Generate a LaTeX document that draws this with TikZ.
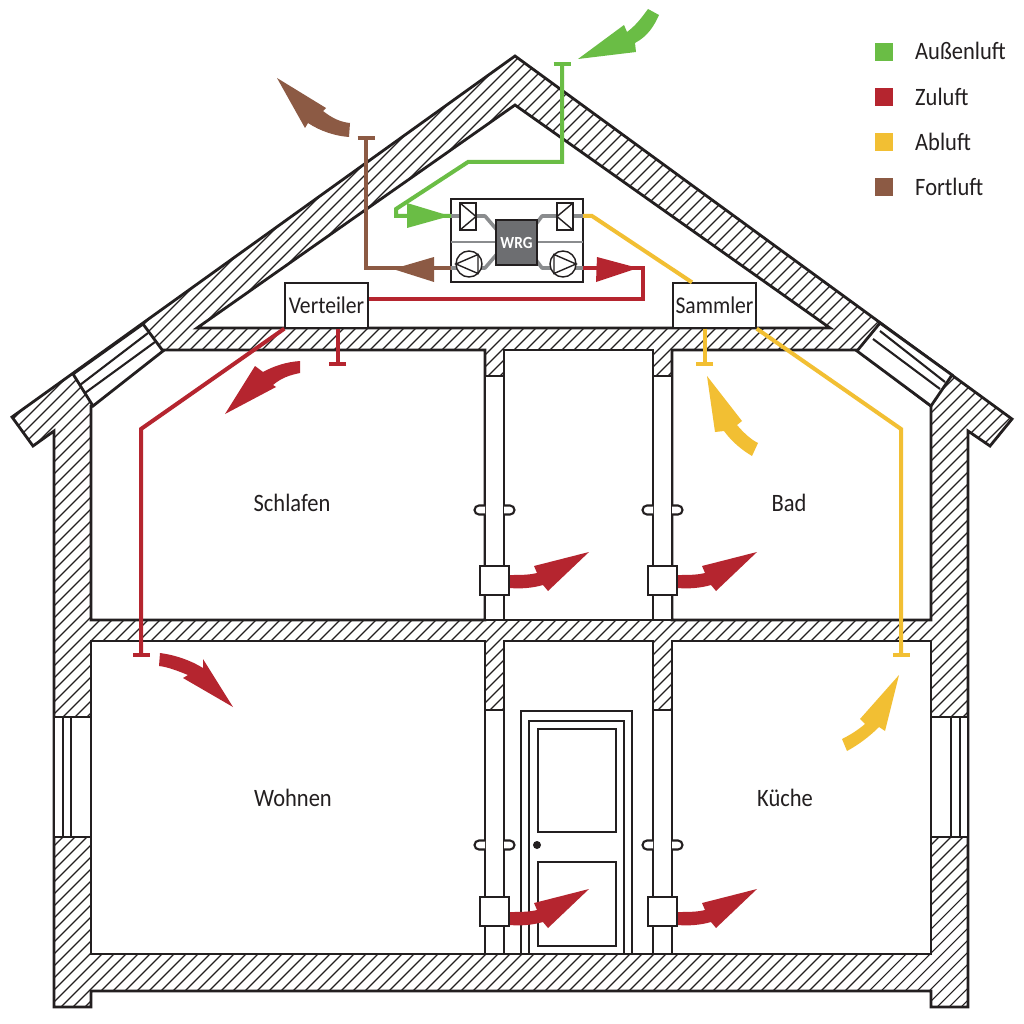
\documentclass[tikz,border=0pt]{standalone}
\usepackage{fontspec}
\setmainfont{Carlito}[FakeStretch=0.9]
\usetikzlibrary{arrows.meta}
\definecolor{aussen}{HTML}{6ABD45}
\definecolor{zu}{HTML}{B5252F}
\definecolor{ab}{HTML}{F2BF33}
\definecolor{fort}{HTML}{8C5A44}
\definecolor{ink}{HTML}{231F20}
\definecolor{wrggray}{HTML}{6D6E71}
\definecolor{pipegray}{HTML}{8A8C8E}
\tikzset{
  wall/.style={draw=ink,line width=2.8pt,line join=miter},
  room/.style={wall,fill=white},
  thin wall/.style={draw=ink,line width=2.1pt},
  hatchline/.style={draw=ink,line width=1.1pt},
  duct/.style={line width=4pt,line join=miter},
  ductend/.style={-{Bar[width=17pt,length=3.5pt]}},
  label/.style={font=\fontsize{25}{25}\selectfont,text=ink,inner sep=0pt},
  boxlabel/.style={draw=ink,line width=1.3pt,fill=white,font=\fontsize{24}{24}\selectfont,text=ink,inner sep=0pt,minimum width=83pt,minimum height=45pt},
  legendkey/.style={inner sep=0pt,minimum width=18pt,minimum height=18pt},
  legendtext/.style={label,anchor=base west},
  pipe/.style={draw=pipegray,line width=3.6pt,line join=round},
  unitline/.style={draw=ink,line width=1.4pt},
}
\begin{document}
\begin{tikzpicture}[x=1pt,y=-1pt]
\useasboundingbox (0,0) rectangle (1024,1024);
\fill[white] (0,0) rectangle (1024,1024);
% hatching of the section
\begin{scope}
\clip (515,56)--(1012,419)--(990,446)--(968,431)--(968,1007)--(931,1007)--(931,991)--(91,991)--(91,1007)--(54,1007)--(54,431)--(33,446)--(12,417)--cycle;
\foreach \c in {0,12,...,2050} \draw[hatchline] (\c,0)--(\c-1030,1030);
\end{scope}
\draw[wall] (515,56)--(1012,419)--(990,446)--(968,431)--(968,1007)--(931,1007)--(931,991)--(91,991)--(91,1007)--(54,1007)--(54,431)--(33,446)--(12,417)--cycle;
% rooms
\draw[room] (515,105)--(830,328)--(197,328)--cycle;
\draw[room] (91,406)--(163,350)--(485,350)--(485,620)--(91,620)--cycle;
\draw[room] (504,350) rectangle (653,620);
\draw[room] (672,350)--(857,350)--(931,406)--(931,620)--(672,620)--cycle;
\draw[room] (91,641) rectangle (485,954);
\draw[room] (504,641) rectangle (653,954);
\draw[room] (672,641) rectangle (931,954);
% wall openings
\foreach \x/\w in {485/19,653/19}{
  \draw[room] (\x,376) rectangle (\x+\w,620);
  \draw[room] (\x,710) rectangle (\x+\w,954);
}
% roof windows
\draw[room] (143,324)--(163,351)--(93,406)--(73,374)--cycle;
\draw[thin wall] (80,385)--(148,333) (85,393)--(155,342);
\draw[room] (880,323)--(857,351)--(931,406)--(952,375)--cycle;
\draw[thin wall] (880,331)--(945,382) (873,339)--(940,389);
% side windows
\draw[room] (54,717) rectangle (91,837);
\draw[room] (931,717) rectangle (968,837);
\draw[thin wall] (63,717)--(63,837) (71,717)--(71,837) (951,717)--(951,837) (960,717)--(960,837);
% door
\draw[thin wall] (521,954)--(521,711)--(632,711)--(632,954);
\draw[thin wall] (529,954)--(529,721)--(624,721)--(624,954);
\draw[thin wall] (538,729) rectangle (616,832);
\draw[thin wall] (538,862) rectangle (616,946);
\fill[ink] (537,845) circle (4);
% door handles
\foreach \y in {510,845}\foreach \xa/\xb in {485/504,653/672}{
  \draw[thin wall,fill=white] (\xa,\y-4.5)--(\xa-6,\y-4.5) arc[start angle=90,end angle=270,radius=4.5,y radius=-4.5]--(\xa,\y+4.5);
  \draw[thin wall,fill=white] (\xb,\y-4.5)--(\xb+6,\y-4.5) arc[start angle=90,end angle=-90,radius=4.5,y radius=-4.5]--(\xb,\y+4.5);
}
% wall boxes
\foreach \x in {480,648}\foreach \y in {566,897}
  \draw[thin wall,fill=white] (\x,\y) rectangle (\x+29,\y+29);
% room labels
\node[label] (schlafen) at (292,503) {Schlafen};
\node[label] (wohnen) at (293,798) {Wohnen};
\node[label] (bad) at (789,503) {Bad};
\node[label] (kueche) at (785,798) {Küche};
% unit
\node[draw=ink,line width=2.2pt,fill=white,minimum width=132pt,minimum height=83pt,inner sep=0pt] (unit) at (517,240.5) {};
\coordinate (uTL) at (451,216);
\coordinate (uBL) at (451,268);
\coordinate (uTR) at (583,216);
\coordinate (uBR) at (583,268);
\draw[draw=pipegray,line width=1.6pt] (451,242)--(496,242) (537,242)--(583,242);
\draw[pipe] (uTL)--(485,216)--(497,230);
\draw[pipe] (uBL)--(485,268)--(497,254);
\draw[pipe] (uTR)--(542,216)--(536,224);
\draw[pipe] (uBR)--(542,268)--(536,260);
\node[draw=ink,line width=2pt,fill=wrggray,text=white,minimum width=41pt,minimum height=45pt,inner sep=0pt,font=\fontsize{17}{17}\selectfont\bfseries] (wrg) at (516.5,242.5) {WRG};
\draw[unitline,fill=white] (460,203) rectangle (476,230);
\draw[unitline] (460,203)--(476,216.5)--(460,230) (476,203)--(476,230);
\draw[unitline,fill=white] (557,203) rectangle (573,230);
\draw[unitline] (573,203)--(557,216.5)--(573,230);
\draw[unitline,fill=white] (469,264) circle (13);
\draw[unitline] (456,264)--(478,254.5)--(478,273.5)--cycle;
\draw[unitline,fill=white] (563,264) circle (13);
\draw[unitline] (576,264)--(554,254.5)--(554,273.5)--cycle;
% distribution boxes
\node[boxlabel] (verteiler) at (326.5,305.5) {Verteiler};
\node[boxlabel] (sammler) at (714.5,305.5) {Sammler};
% duct ends
\coordinate (eAussen) at (562,62);
\coordinate (eFort) at (366,136);
\coordinate (eZu1) at (337.5,366);
\coordinate (eZu2) at (141,657);
\coordinate (eAb1) at (704.5,366);
\coordinate (eAb2) at (901,657);
% ducts
\draw[duct,aussen,ductend] (uTL)--(396,216)--(396,209)--(468,162)--(562,162)--(eAussen);
\draw[duct,fort,ductend] (uBL)--(366,268)--(eFort);
\draw[duct,zu] (uBR)--(643,268)--(643,299)--(verteiler.east|-643,299);
\draw[duct,ab] (uTR)--(592,216)--(sammler.north-|692,0);
\draw[duct,zu,ductend] (eZu1|-verteiler.south)--(eZu1);
\draw[duct,ab,ductend] (eAb1|-sammler.south)--(eAb1);
\draw[duct,zu,ductend] (verteiler.south west)--(141,429)--(eZu2);
\draw[duct,ab,ductend] (sammler.south east)--(901,429)--(eAb2);
% triangles on ducts
\fill[aussen] (450,216)--(407,203)--(407,228)--cycle;
\fill[fort] (393,269)--(434,257)--(434,282)--cycle;
\fill[zu] (638,268)--(597,257)--(596,282)--cycle;
% air-flow arrows
\fill[aussen] (648,9)..controls (640,20) and (635,26)..(627,32)--(624,25)--(578,59)--(636,52)--(635,43)..controls (648,36) and (654,26)..(659,15)--cycle;
\fill[fort] (350,123)..controls (340,122) and (332,118)..(323,111)--(326,108)--(277,78)--(305,128)--(308,123)..controls (320,131) and (335,136)..(349,137)--cycle;
\fill[zu] (300,361)..controls (286,362) and (274,366)..(263,372)--(255,366)--(225,414)--(276,387)--(273,385)..controls (281,378) and (290,375)..(300,373)--cycle;
\fill[zu] (160,653)..controls (175,655) and (190,660)..(203,668)--(203,659)--(233,707)--(183,678)--(188,675)..controls (178,671) and (168,667)..(159,666)--cycle;
\fill[ab] (758,443)..controls (750,439) and (743,432)..(737,425)--(742,421)--(707,376)--(715,432)--(724,431)..controls (732,442) and (742,450)..(752,456)--cycle;
\fill[ab] (842,739)..controls (850,735) and (858,730)..(865,724)--(860,719)--(899,675)--(885,731)--(879,727)..controls (869,737) and (858,745)..(847,751)--cycle;
\foreach \dx/\dy in {0/0,168/0,0/-337,168/-337}
  \fill[zu,shift={(\dx,\dy)}] (510,912)..controls (520,912) and (529,912)..(537,910)--(534,903)--(589,889)--(548,928)--(543,922)..controls (533,925) and (520,926)..(510,925)--cycle;
% legend
\node[legendkey,fill=aussen] (k1) at (884,52) {};
\node[legendkey,fill=zu] (k2) at (884,97.5) {};
\node[legendkey,fill=ab] (k3) at (884,142.5) {};
\node[legendkey,fill=fort] (k4) at (884,187.5) {};
\node[legendtext] (t1) at (915,60) {Außenluft};
\node[legendtext] (t2) at (915,106) {Zuluft};
\node[legendtext] (t3) at (915,151) {Abluft};
\node[legendtext] (t4) at (915,196) {Fortluft};
\end{tikzpicture}
\end{document}
